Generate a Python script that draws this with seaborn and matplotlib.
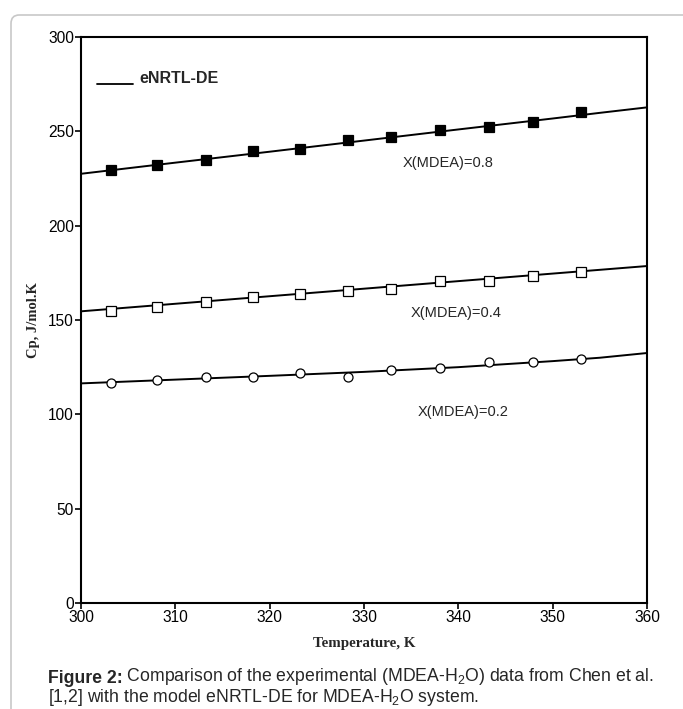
import matplotlib
matplotlib.use("Agg")
import matplotlib.pyplot as plt
from matplotlib.patches import FancyBboxPatch
import pandas as pd
import seaborn as sns

T_EXP = [303.2, 308.1, 313.2, 318.2, 323.2, 328.3, 332.9, 338.1, 343.2, 347.9, 353.0]
CP_08 = [229.3, 232.0, 234.8, 239.5, 240.9, 245.3, 246.8, 250.5, 252.1, 254.7, 260.4]
CP_04 = [154.6, 157.0, 159.5, 162.1, 163.9, 165.3, 166.6, 170.6, 170.6, 173.5, 175.2]
CP_02 = [116.4, 118.2, 119.6, 119.8, 122.1, 119.8, 123.6, 124.7, 127.9, 127.7, 129.3]

# eNRTL-DE model curves
T_MOD = [300, 310, 320, 330, 340, 350, 355, 360]
MOD_08 = [227.5, 233.4, 239.2, 245.1, 251.0, 256.8, 259.8, 262.7]
MOD_04 = [154.6, 158.6, 162.6, 166.6, 170.6, 174.6, 176.6, 178.6]
MOD_02 = [116.4, 118.4, 120.4, 122.5, 125.0, 128.2, 130.0, 132.5]

LABELS = ["X(MDEA)=0.8", "X(MDEA)=0.4", "X(MDEA)=0.2"]
LABEL_POS = [(334.1, 233.0), (334.9, 153.5), (335.7, 101.4)]

sns.set_style("white")
plt.rcParams.update({
    "font.family": ["Liberation Sans", "DejaVu Sans"],
    "mathtext.fontset": "custom",
    "mathtext.rm": "Liberation Sans",
    "mathtext.it": "Liberation Sans",
    "mathtext.bf": "Liberation Sans:bold",
})

exp = pd.DataFrame({
    "T": T_EXP * 3,
    "Cp": CP_08 + CP_04 + CP_02,
    "x": ["0.8"] * len(T_EXP) + ["0.4"] * len(T_EXP) + ["0.2"] * len(T_EXP),
})
mod = pd.DataFrame({
    "T": T_MOD * 3,
    "Cp": MOD_08 + MOD_04 + MOD_02,
    "x": ["0.8"] * len(T_MOD) + ["0.4"] * len(T_MOD) + ["0.2"] * len(T_MOD),
})

W, H = 683, 709
fig = plt.figure(figsize=(W / 100, H / 100), dpi=100)

# card frame
fig.patches.append(FancyBboxPatch(
    (11 / W, -0.05), 1.2, (H - 15) / H + 0.05,
    boxstyle="round,pad=0,rounding_size=0.012", transform=fig.transFigure,
    facecolor="none", edgecolor="#c8c8c8", linewidth=1.2))

ax = fig.add_axes([81 / W, 106 / H, 566 / W, 566 / H])

for key in ["0.8", "0.4", "0.2"]:
    sns.lineplot(data=mod[mod["x"] == key], x="T", y="Cp", color="black",
                 linewidth=1.4, ax=ax, legend=False)

styles = {"0.8": ("s", "black", 6.5), "0.4": ("s", "white", 7.5), "0.2": ("o", "white", 6.5)}
for key, (m, fc, ms) in styles.items():
    d = exp[exp["x"] == key]
    ax.plot(d["T"], d["Cp"], linestyle="none", marker=m, markersize=ms,
            markerfacecolor=fc, markeredgecolor="black", markeredgewidth=0.9, zorder=3)

for lab, (tx, ty) in zip(LABELS, LABEL_POS):
    ax.text(tx, ty, lab, fontsize=10.5, va="center", ha="left")

# legend entry drawn by hand
ax.plot([301.7, 305.5], [275, 275], color="black", linewidth=1.3)
ax.text(306.2, 278, "eNRTL-DE", fontsize=11.5, fontweight="bold", va="center", ha="left")

ax.set_xlim(300, 360)
ax.set_ylim(0, 300)
ax.set_xticks(range(300, 361, 10))
ax.set_yticks(range(0, 301, 50))
ax.tick_params(axis="both", direction="out", length=4, width=1.2, labelsize=11.2,
               pad=1, bottom=True, left=True, colors="black")
for s in ax.spines.values():
    s.set_color("black")
    s.set_linewidth(1.5)

ax.set_xlabel("Temperature, K", family="Liberation Serif", fontweight="bold",
              fontsize=10.8, va="center")
ax.xaxis.set_label_coords(0.5, (603 - 644) / 566)
ax.set_ylabel("Cp, J/mol.K", family="Liberation Serif", fontweight="bold",
              fontsize=10.5, va="center")
ax.yaxis.set_label_coords((33 - 81) / 566, 0.5)

t1 = fig.text(47.5 / W, 1 - 683 / H, "Figure 2:", fontsize=12.7,
              fontweight="bold", va="baseline")
ax.annotate(" Comparison of the experimental (MDEA-H$_2$O) data from Chen et al.",
            xy=(1, 0), xycoords=t1, va="bottom", fontsize=12.7,
            annotation_clip=False)
fig.text(47.5 / W, 1 - 702 / H, "[1,2] with the model eNRTL-DE for MDEA-H$_2$O system.",
         fontsize=12.7, va="baseline")

fig.savefig("out.png", dpi=100)
